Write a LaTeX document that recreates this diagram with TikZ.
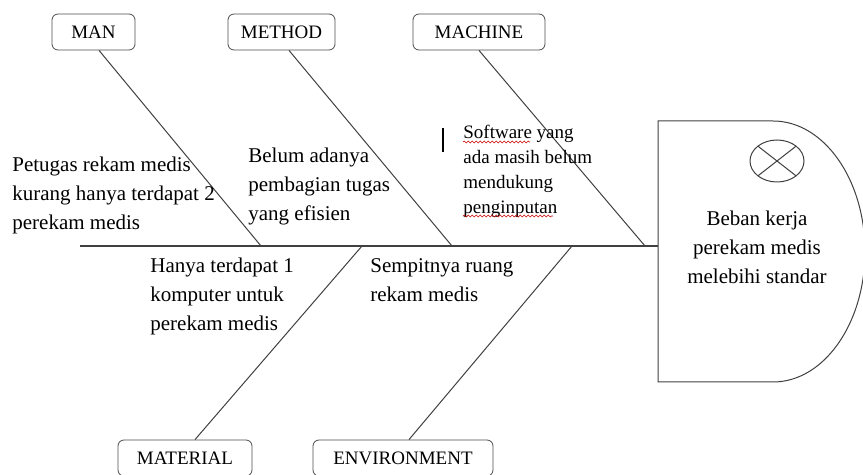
\documentclass[tikz,border=0pt]{standalone}
\usepackage{fontspec}
\setmainfont{Liberation Serif}
\usetikzlibrary{decorations.pathmorphing}

\begin{document}
\begin{tikzpicture}[
    x=0.5pt, y=-0.5pt,
    box/.style={rectangle, draw=black!70, rounded corners=3pt, minimum height=18pt, inner xsep=6pt, font=\fontsize{9.5}{11}\selectfont},
    bone/.style={draw=black!75, line width=0.5pt},
    cause/.style={anchor=north west, inner sep=0pt, align=left, font=\fontsize{10.5}{14.5}\selectfont},
    spell/.style={draw=red!80!black, line width=0.3pt, decorate, decoration={snake, amplitude=0.45pt, segment length=2pt}}
]
    \useasboundingbox (0,0) rectangle (863,475);

    % Category boxes
    \node[box, minimum width=41.5pt] (man) at (93.5,32) {MAN};
    \node[box, minimum width=53.5pt] (method) at (281.5,32) {METHOD};
    \node[box, minimum width=66pt] (machine) at (479,32) {MACHINE};
    \node[box, minimum width=67pt] (material) at (185,458) {MATERIAL};
    \node[box, minimum width=90pt] (environment) at (403,458) {ENVIRONMENT};

    % Spine and joints
    \coordinate (tail) at (80,246);
    \coordinate (headin) at (658,246);
    \coordinate (jman) at (261,246);
    \coordinate (jmethod) at (452,246);
    \coordinate (jmachine) at (645,246);
    \coordinate (jmaterial) at (362,246);
    \coordinate (jenvironment) at (572,246);

    % Head
    \draw[draw=black!75, line width=0.5pt] (658,121) -- (773,121)
        arc[start angle=90, end angle=-90, x radius=46pt, y radius=65.25pt]
        -- (658,382) -- cycle;
    \draw[draw=black!75, line width=0.5pt] (777,161) ellipse[x radius=13.5pt, y radius=10.5pt];
    \draw[draw=black!75, line width=0.5pt] (777,161) ++(-9.5pt,7.4pt) -- ++(19pt,-14.8pt);
    \draw[draw=black!75, line width=0.5pt] (777,161) ++(-9.5pt,-7.4pt) -- ++(19pt,14.8pt);
    \node[align=center, font=\fontsize{10.5}{14.5}\selectfont] (effect) at (757,247)
        {Beban kerja\\perekam medis\\melebihi standar};

    % Bones
    \draw[bone, line width=0.7pt] (tail) -- (headin);
    \draw[bone] ([xshift=2.75pt]man.south) -- (jman);
    \draw[bone] ([xshift=3.75pt]method.south) -- (jmethod);
    \draw[bone] (machine.south) -- (jmachine);
    \draw[bone] ([xshift=5pt]material.north) -- (jmaterial);
    \draw[bone] ([xshift=3pt]environment.north) -- (jenvironment);

    % Causes
    \node[cause] (petugas) at (12,157) {Petugas rekam medis\\kurang hanya terdapat 2\\perekam medis};
    \node[cause] (pembagian) at (248,148) {Belum adanya\\pembagian tugas\\yang efisien};
    \node[cause, font=\fontsize{9.5}{12.4}\selectfont] (software) at (463,125) {Software yang\\ada masih belum\\mendukung\\penginputan};
    \node[cause] (komputer) at (150,258) {Hanya terdapat 1\\komputer untuk\\perekam medis};
    \node[cause] (ruang) at (370,258) {Sempitnya ruang\\rekam medis};

    % Marks left in the source
    \draw[spell] (463,142) -- (530,142);
    \draw[spell] (463,216) -- (553,216);
    \draw[line width=1.4pt] (443,128) -- (443,152);
\end{tikzpicture}
\end{document}
